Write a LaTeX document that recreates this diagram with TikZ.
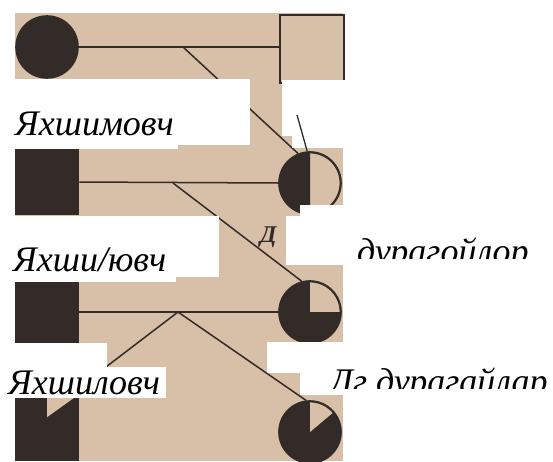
\documentclass[tikz,border=0pt]{standalone}
\usepackage{fontspec}
\setmainfont{Liberation Serif}
\usetikzlibrary{calc}
\definecolor{paper}{RGB}{216,191,167}
\definecolor{ink}{RGB}{50,43,40}
\tikzset{
  female/.style={circle,draw=ink,line width=1.6pt,minimum size=62pt,inner sep=0pt},
  male/.style={rectangle,draw=ink,line width=1.6pt,minimum width=63pt,minimum height=64pt,inner sep=0pt},
  link/.style={draw=ink,line width=1.5pt},
  patch/.style={fill=white},
  word/.style={anchor=base west,inner sep=0pt,font=\fontsize{36}{40}\selectfont\itshape}
}
\begin{document}
\begin{tikzpicture}[x=1pt,y=-1pt]
\useasboundingbox (0,0) rectangle (553,461);
\fill[paper] (15,13) rectangle (343,461);
\node[female,fill=ink] (m1) at (47,47) {};
\node[male,fill=paper,minimum width=64pt,minimum height=68pt] (f1) at (312,49) {};
\node[male,fill=ink] (m2) at (47,182) {};
\node[female,fill=paper] (c2) at (310,183) {};
\node[male,fill=ink] (m3) at (47,312) {};
\node[female,fill=ink] (c3) at (310,312) {};
\node[male,fill=ink,minimum height=62pt] (m4) at (47,429) {};
\node[female,fill=ink] (c4) at (310,432) {};
\fill[ink] (c2.north) -- (c2.south) arc[start angle=270,end angle=90,radius=31pt] -- cycle;
\begin{scope}
\clip (c3) circle[radius=31pt];
\fill[paper] (c3.center) rectangle ($(c3.center)+(40,-40)$);
\end{scope}
\begin{scope}
\clip (c4) circle[radius=31pt];
\fill[paper] (c4.center) -- ($(c4.center)!1.6!(c4.north)$) -- ($(c4.center)!1.6!(c4.40)$) -- cycle;
\end{scope}
\draw[link,line width=1.8pt] (c2) circle[radius=30.5pt];
\draw[link,line width=1.8pt] (c3) circle[radius=30.5pt];
\draw[link,line width=1.8pt] (c4) circle[radius=30.5pt];
\fill[paper] (m4.north) -- ++(0,20) -- ++(28,-20) -- cycle;
\coordinate (j1) at (183,47);
\coordinate (j2) at (173,183);
\coordinate (j3) at (178,312);
\draw[link] (m1.east) -- (m1.east -| f1.west);
\draw[link] (j1) -- (c2.112);
\draw[link] (m2.east) -- (c2.west);
\draw[link] (j2) -- (c3.105);
\draw[link] (m3.east) -- (c3.west);
\draw[link] (j3) -- (c4.97);
\draw[link] (j3) -- ($(m4.north)!0.6!(m4.north east)$);
\fill[patch] (13,79) rectangle (250,145);
\fill[patch] (13,145) rectangle (178,149);
\fill[patch] (282,80) rectangle (345,136);
\fill[patch] (292,136) rectangle (345,148);
\fill[patch] (13,216) rectangle (219,277);
\fill[patch] (13,277) rectangle (176,282);
\fill[patch] (286,216) rectangle (345,265);
\fill[patch] (300,205) rectangle (345,216);
\fill[patch] (13,343) rectangle (107,367);
\fill[patch] (13,367) rectangle (166,398);
\fill[patch] (267,342) rectangle (345,373);
\fill[patch] (300,373) rectangle (345,395);
\coordinate (t1) at (297,115);
\draw[draw=ink,line width=1.3pt] (t1) -- (c2.95);
\node[word] (w1) at (15,135) {Яхшимовч};
\node[word] (w2) at (13,271) {Яхши/ювч};
\node[word] (w3) at (8,394) {Яхшиловч};
\node[anchor=base west,inner sep=0pt,font=\fontsize{24}{24}\selectfont\bfseries\itshape,text=ink] (d) at (260,242) {Д};
\begin{scope}
\clip (330,225) rectangle (553,258);
\node[word] (w4) at (357,263) {дурагойлор};
\end{scope}
\begin{scope}
\clip (320,355) rectangle (553,388);
\node[word] (w5) at (330,393) {Дг дурагайлар};
\end{scope}
\end{tikzpicture}
\end{document}
